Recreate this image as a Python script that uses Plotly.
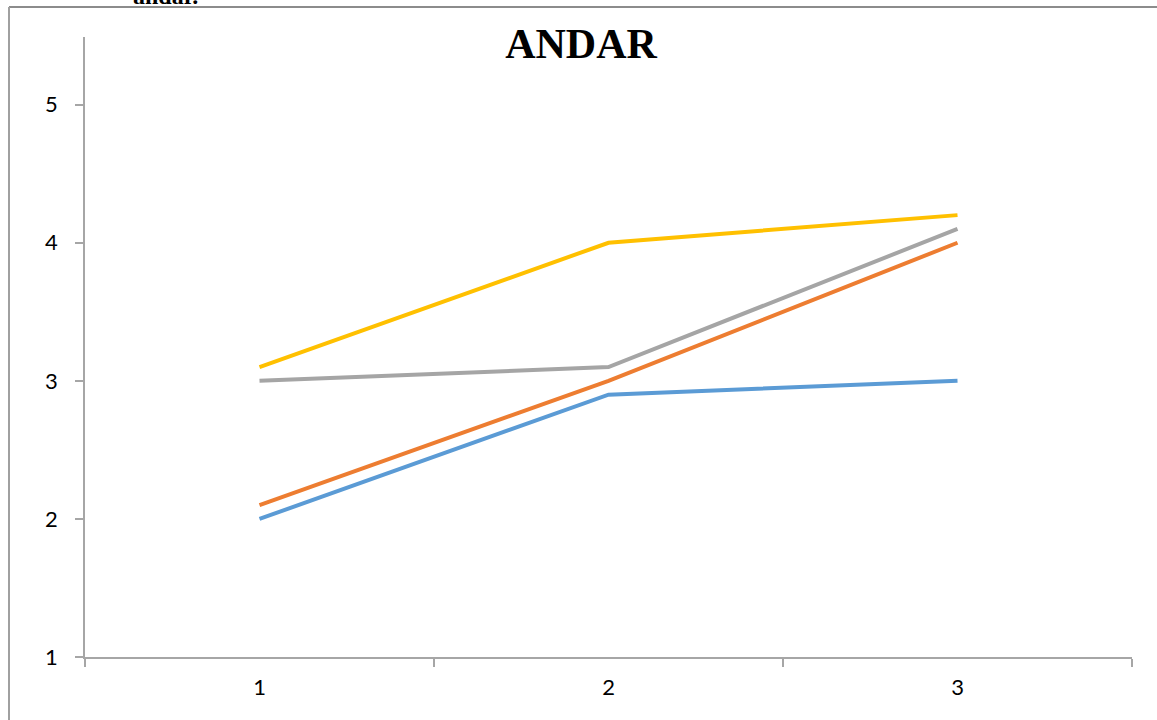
import plotly.graph_objects as go

# Categories and series values
categories = ["1", "2", "3"]
series_1 = [2.0, 2.9, 3.0]
series_2 = [2.1, 3.0, 4.0]
series_3 = [3.0, 3.1, 4.1]
series_4 = [3.1, 4.0, 4.2]
y_ticks = [1, 2, 3, 4, 5]

colors = ["#5B9BD5", "#ED7D31", "#A5A5A5", "#FFC000"]

fig = go.Figure()
for vals, col in zip([series_1, series_2, series_3, series_4], colors):
    fig.add_trace(go.Scatter(
        x=categories, y=vals, mode="lines",
        line=dict(color=col, width=4),
        showlegend=False, hoverinfo="skip",
    ))

axis_col = "#A6A6A6"
W, H = 1157, 720
L, R, T, B = 85, 25, 37, 63
pw, ph = W - L - R, H - T - B

def px_x(p):
    return (p - L) / pw

def px_y(p):
    return (H - B - p) / ph

fig.update_layout(
    width=W, height=H,
    margin=dict(l=L, r=R, t=T, b=B, pad=0),
    paper_bgcolor="white", plot_bgcolor="white",
    font=dict(family="Lato, 'Open Sans', sans-serif", size=22, color="#000000"),
    title=dict(
        text="<b>ANDAR</b>",
        font=dict(family="'Liberation Serif', 'Times New Roman', serif", size=42, color="#000000"),
        x=581 / W, xanchor="center", xref="container",
        y=1 - 43 / H, yanchor="middle", yref="container",
    ),
    xaxis=dict(
        type="category",
        range=[-0.5, 2.5],
        showgrid=False, zeroline=False,
        showline=True, linecolor=axis_col, linewidth=1.5,
        ticks="outside", ticklen=8, tickwidth=1.5, tickcolor=axis_col,
        tickson="boundaries",
        ticklabelstandoff=10,
        tickfont=dict(size=22),
    ),
    yaxis=dict(
        range=[1, 5.49],
        tickvals=y_ticks,
        showgrid=False, zeroline=False,
        showline=True, linecolor=axis_col, linewidth=1.5,
        ticks="outside", ticklen=8, tickwidth=1.5, tickcolor=axis_col,
        ticklabelstandoff=13,
        tickfont=dict(size=22),
    ),
    shapes=[
        # page frame: top rule and left rule
        dict(type="line", xref="paper", yref="paper",
             x0=px_x(9), x1=px_x(W + 2), y0=px_y(7), y1=px_y(7),
             line=dict(color="#8C8C8C", width=2)),
        dict(type="line", xref="paper", yref="paper",
             x0=px_x(9), x1=px_x(9), y0=px_y(7), y1=px_y(H + 2),
             line=dict(color="#A0A0A0", width=2)),
    ],
    annotations=[
        dict(text="<b>andar.</b>", xref="paper", yref="paper",
             x=px_x(131), y=1, xanchor="left", yanchor="bottom",
             yshift=T - 11, showarrow=False,
             font=dict(family="'Liberation Serif', serif", size=24, color="#000000")),
    ],
)

fig.write_html("out.html")
